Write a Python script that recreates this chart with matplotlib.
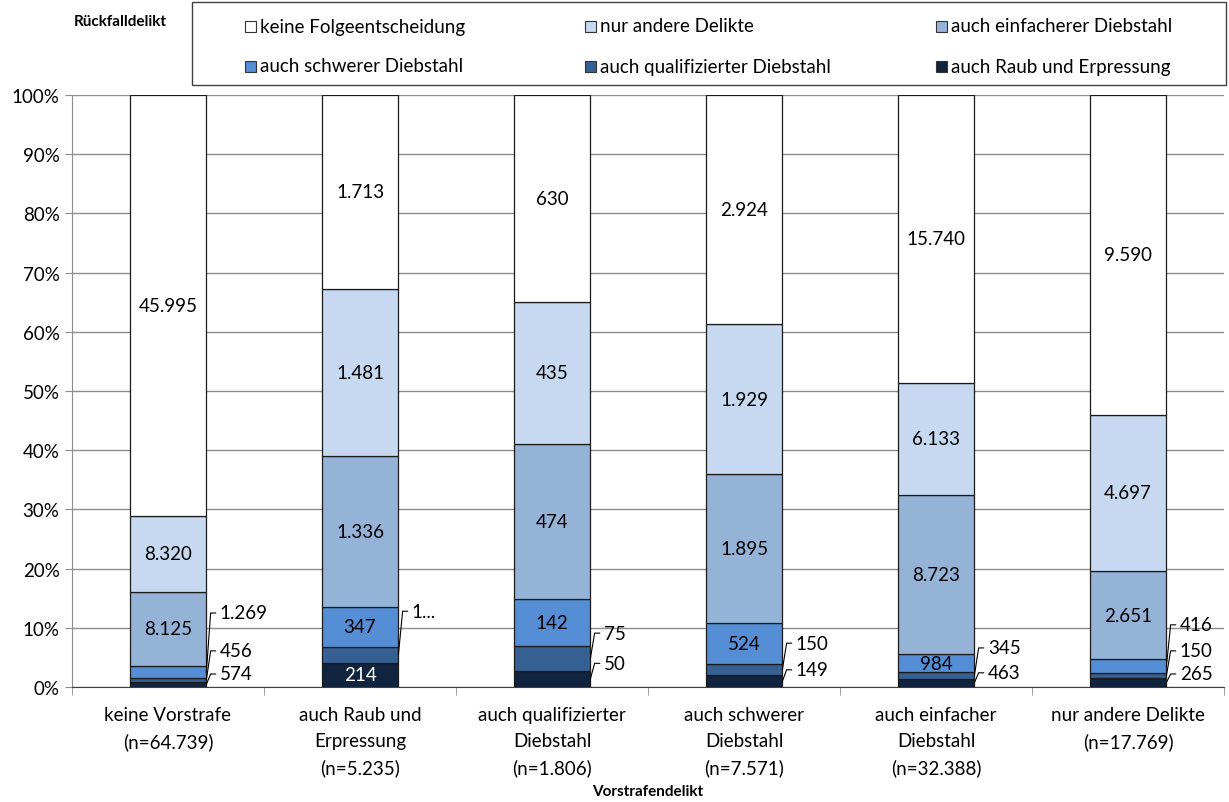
import matplotlib
matplotlib.use("Agg")
import matplotlib.pyplot as plt
from matplotlib.patches import Rectangle
import numpy as np

plt.rcParams['font.family'] = ['Lato', 'DejaVu Sans']

categories = ["keine Vorstrafe\n(n=64.739)", "auch Raub und\nErpressung\n(n=5.235)",
              "auch qualifizierter\nDiebstahl\n(n=1.806)", "auch schwerer\nDiebstahl\n(n=7.571)",
              "auch einfacher\nDiebstahl\n(n=32.388)", "nur andere Delikte\n(n=17.769)"]

series_names = ["auch Raub und Erpressung", "auch qualifizierter Diebstahl", "auch schwerer Diebstahl",
                "auch einfacherer Diebstahl", "nur andere Delikte", "keine Folgeentscheidung"]

raub = [574, 214, 50, 149, 463, 265]
qualifiziert = [456, 144, 75, 150, 345, 150]
schwer = [1269, 347, 142, 524, 984, 416]
einfach = [8125, 1336, 474, 1895, 8723, 2651]
andere = [8320, 1481, 435, 1929, 6133, 4697]
keine = [45995, 1713, 630, 2924, 15740, 9590]

colors = ["#10243F", "#376092", "#558ED5", "#95B3D7", "#C6D9F1", "#FFFFFF"]

# external labels: (bar index, series index, label y in percent, text)
outside = [(0, 0, 2.2, None), (0, 1, 6.1, None), (0, 2, 12.5, None),
           (1, 1, 12.8, "1..."),
           (2, 0, 4.0, None), (2, 1, 9.1, None),
           (3, 0, 2.9, None), (3, 1, 7.4, None),
           (4, 0, 2.4, None), (4, 1, 6.6, None),
           (5, 0, 2.2, None), (5, 1, 6.1, None), (5, 2, 10.5, None)]


def fmt(v):
    return f"{v:,}".replace(",", ".")


W, H = 1229, 803
data = np.array([raub, qualifiziert, schwer, einfach, andere, keine], dtype=float)
totals = data.sum(axis=0)
pct = data / totals * 100

fig = plt.figure(figsize=(W / 100, H / 100), dpi=100)
ax = fig.add_axes([72 / W, 1 - 688 / H, (1224 - 72) / W, (688 - 96) / H])

x = np.arange(len(categories))
bw = 0.4
bottom = np.zeros(len(categories))
out_set = {(b, s) for b, s, _, _ in outside}
for s in range(len(series_names)):
    ax.bar(x, pct[s], bw, bottom=bottom, color=colors[s], edgecolor="#1a1a1a",
           linewidth=0.9, zorder=3, label=series_names[s])
    for b in range(len(categories)):
        if (b, s) in out_set:
            continue
        yc = bottom[b] + pct[s][b] / 2
        tc = "white" if s == 0 else "black"
        ax.text(x[b], yc, fmt(int(data[s][b])), ha="center", va="center",
                fontsize=13.5, color=tc, zorder=5)
    bottom += pct[s]

# outside labels with leader lines
cum = np.vstack([np.zeros(len(categories)), np.cumsum(pct, axis=0)])
for b, s, ly, txt in outside:
    ymid = (cum[s][b] + cum[s + 1][b]) / 2
    xr = x[b] + bw / 2
    ax.plot([xr, xr + 0.022, xr + 0.048], [ymid, ly, ly], color="black", lw=0.8,
            zorder=4, clip_on=False)
    ax.text(xr + 0.07, ly, txt if txt else fmt(int(data[s][b])), ha="left", va="center",
            fontsize=13.5, color="black", zorder=5)

ax.set_xlim(-0.5, len(categories) - 0.5)
ax.set_ylim(0, 100)
ax.set_yticks(np.arange(0, 101, 10))
ax.set_yticklabels([f"{v}%" for v in range(0, 101, 10)], fontsize=13.5)
ax.yaxis.grid(True, color="#8c8c8c", lw=1.0, zorder=0)
ax.set_axisbelow(True)

ax.set_xticks(x)
ax.set_xticklabels(categories, fontsize=13.5, linespacing=1.62, va="top")
ax.tick_params(axis="x", length=0, pad=14)
ax.set_xticks(np.arange(-0.5, len(categories) + 0.5, 1), minor=True)
ax.tick_params(axis="x", which="minor", length=6, color="#8c8c8c", direction="out")
ax.tick_params(axis="y", length=5, color="#8c8c8c", direction="out", pad=4)

for sp in ["top", "right"]:
    ax.spines[sp].set_visible(False)
ax.spines["left"].set_color("#8c8c8c")
ax.spines["bottom"].set_color("#404040")

fig.text(648 / W, 1 - 792 / H, "Vorstrafendelikt", ha="center", va="center",
         fontsize=11, fontweight="bold")

# legend (Excel style, equal-width columns, row-wise order)
fig.patches.append(Rectangle((192 / W, 1 - 86 / H), (1226 - 192) / W, 83 / H,
                             transform=fig.transFigure, facecolor="white",
                             edgecolor="#404040", linewidth=1.0, zorder=1))
legend_order = [5, 4, 3, 2, 1, 0]
col_x = [245, 585, 936]
row_y = [27, 67]
for k, si in enumerate(legend_order):
    r, c = divmod(k, 3)
    sx, sy = col_x[c], row_y[r]
    fig.patches.append(Rectangle((sx / W, 1 - (sy + 5.5) / H), 11 / W, 11 / H,
                                 transform=fig.transFigure, facecolor=colors[si],
                                 edgecolor="#333333", linewidth=0.8, zorder=2))
    fig.text((sx + 15) / W, 1 - sy / H, series_names[si], ha="left", va="center",
             fontsize=13.5, zorder=3)

fig.text(120 / W, 1 - 22 / H, "Rückfalldelikt", ha="center", va="center",
         fontsize=11, fontweight="bold")

fig.savefig("out.png", dpi=100)
